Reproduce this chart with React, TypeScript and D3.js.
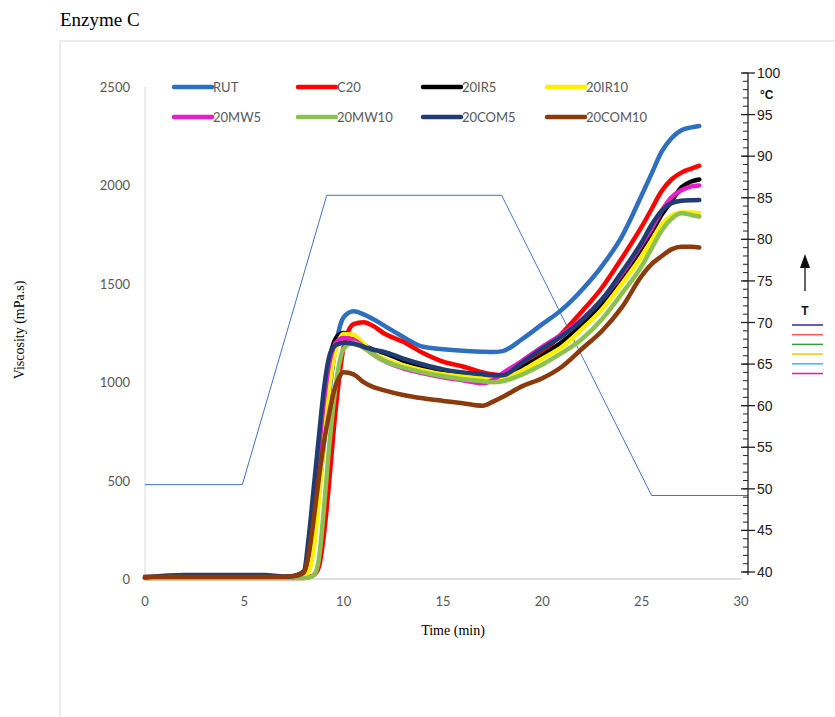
import * as d3 from "d3";
import { useRef, useEffect } from "react";

const seriesNames = ["RUT", "C20", "20IR5", "20IR10", "20MW5", "20MW10", "20COM5", "20COM10"];
const seriesColors = ["#2E6FBF", "#FF0000", "#000000", "#FFF000", "#E61EC8", "#8CC152", "#1F3C73", "#8B3A0C"];

// time (min)
const times = [0, 2, 4, 6, 7, 7.5, 8, 8.25, 8.5, 8.75, 9, 9.25, 9.5, 9.75, 10, 10.5, 11, 11.5, 12, 13, 14, 15, 16, 17, 17.5, 18, 19, 20, 21, 22, 23, 24, 25, 25.5, 26, 26.5, 27, 27.5, 27.9];

// viscosity (mPa.s)
const rut = [8, 8, 8, 8, 10, 12, 15, 50, 200, 430, 680, 920, 1120, 1260, 1330, 1360, 1345, 1320, 1290, 1230, 1180, 1168, 1160, 1155, 1153, 1158, 1220, 1295, 1370, 1470, 1590, 1740, 1950, 2060, 2170, 2240, 2280, 2295, 2302];
const c20 = [5, 5, 5, 5, 5, 5, 5, 10, 20, 60, 220, 470, 760, 1000, 1180, 1295, 1305, 1285, 1250, 1205, 1148, 1104, 1080, 1050, 1040, 1035, 1090, 1150, 1250, 1360, 1480, 1630, 1790, 1880, 1970, 2030, 2065, 2085, 2100];
const ir5 = [8, 8, 8, 8, 10, 12, 25, 120, 370, 640, 900, 1100, 1200, 1240, 1250, 1230, 1190, 1165, 1150, 1110, 1080, 1058, 1042, 1030, 1026, 1028, 1075, 1135, 1205, 1290, 1400, 1530, 1680, 1760, 1850, 1920, 1990, 2020, 2030];
const ir10 = [8, 8, 8, 8, 8, 10, 15, 40, 160, 400, 700, 950, 1120, 1210, 1245, 1240, 1195, 1150, 1120, 1085, 1060, 1040, 1030, 1020, 1015, 1020, 1060, 1120, 1180, 1270, 1370, 1500, 1640, 1720, 1800, 1845, 1862, 1862, 1860];
const mw5 = [8, 8, 8, 8, 10, 15, 35, 160, 410, 660, 900, 1080, 1180, 1215, 1225, 1215, 1180, 1140, 1110, 1070, 1045, 1025, 1010, 995, 1010, 1045, 1110, 1180, 1245, 1320, 1420, 1550, 1700, 1780, 1870, 1940, 1975, 1995, 2000];
const mw10 = [5, 5, 5, 5, 5, 5, 5, 8, 20, 100, 350, 650, 900, 1080, 1170, 1200, 1175, 1140, 1110, 1075, 1050, 1030, 1015, 1005, 1000, 1005, 1040, 1090, 1150, 1220, 1320, 1450, 1590, 1680, 1770, 1830, 1858, 1850, 1842];
const com5 = [8, 20, 20, 20, 12, 15, 40, 220, 470, 720, 960, 1120, 1180, 1195, 1200, 1195, 1180, 1165, 1155, 1120, 1090, 1065, 1050, 1040, 1035, 1035, 1100, 1170, 1235, 1315, 1420, 1560, 1710, 1800, 1870, 1910, 1922, 1925, 1926];
const com10 = [12, 12, 12, 12, 12, 15, 35, 130, 310, 510, 690, 830, 950, 1020, 1050, 1040, 1000, 975, 960, 935, 918, 905, 893, 880, 900, 925, 980, 1020, 1080, 1170, 1260, 1380, 1540, 1600, 1640, 1675, 1688, 1688, 1685];
const seriesValues = [rut, c20, ir5, ir10, mw5, mw10, com5, com10];

// temperature profile (°C)
const tempTimes = [0, 4.9, 9.15, 17.95, 25.5, 30.35];
const tempValues = [50.5, 50.5, 85.3, 85.3, 49.2, 49.2];

const xTicks = [0, 5, 10, 15, 20, 25, 30];
const yTicks = [0, 500, 1000, 1500, 2000, 2500];
const tTicks = [40, 45, 50, 55, 60, 65, 70, 75, 80, 85, 90, 95, 100];
const sideColors = ["#2B2BA6", "#FF5A5A", "#2E9E3A", "#FFC21F", "#35B6FF", "#E0208C"];

export default function App() {
  const svgRef = useRef(null);

  useEffect(() => {
    const svg = d3.select(svgRef.current);
    svg.selectAll("*").remove();

    const x = d3.scaleLinear().domain([0, 30]).range([145, 741]);
    const y = d3.scaleLinear().domain([0, 2500]).range([579, 87]);
    const yT = d3.scaleLinear().domain([40, 100]).range([572, 73]);
    const sans = "Lato, 'Open Sans', sans-serif";

    // outer box
    svg.append("path").attr("d", "M60,717 L60,41 L835,41").attr("fill", "none").attr("stroke", "#d9d9d9");

    svg.append("text").attr("x", 60).attr("y", 26).attr("font-family", "'Liberation Serif', serif")
      .attr("font-size", 19).attr("fill", "#000").text("Enzyme C");

    // axes lines
    svg.append("line").attr("x1", 145).attr("x2", 145).attr("y1", 87).attr("y2", 579).attr("stroke", "#d9d9d9");
    svg.append("line").attr("x1", 145).attr("x2", 741).attr("y1", 579).attr("y2", 579).attr("stroke", "#bfbfbf");

    svg.selectAll(".yt").data(yTicks).enter().append("text")
      .attr("x", 130).attr("y", d => y(d) + 5).attr("text-anchor", "end")
      .attr("font-family", sans).attr("font-size", 13).attr("fill", "#595959").text(d => d);
    svg.selectAll(".xt").data(xTicks).enter().append("text")
      .attr("x", d => x(d)).attr("y", 606).attr("text-anchor", "middle")
      .attr("font-family", sans).attr("font-size", 13).attr("fill", "#595959").text(d => d);

    svg.append("text").attr("x", 453).attr("y", 635).attr("text-anchor", "middle")
      .attr("font-family", "'Liberation Serif', serif").attr("font-size", 14).text("Time (min)");
    svg.append("text").attr("transform", "translate(24,330) rotate(-90)").attr("text-anchor", "middle")
      .attr("font-family", "'Liberation Serif', serif").attr("font-size", 14).text("Viscosity (mPa.s)");

    // temperature line
    const tLine = d3.line().x(d => x(d[0])).y(d => yT(d[1]));
    svg.append("path").datum(tempTimes.map((t, i) => [t, tempValues[i]]))
      .attr("d", tLine).attr("fill", "none").attr("stroke", "#4472C4").attr("stroke-width", 1);

    // viscosity curves
    const line = d3.line().x(d => x(d[0])).y(d => y(d[1])).curve(d3.curveMonotoneX);
    seriesValues.forEach((vals, i) => {
      svg.append("path").datum(times.map((t, j) => [t, vals[j]]))
        .attr("d", line).attr("fill", "none").attr("stroke", seriesColors[i])
        .attr("stroke-width", 4.5).attr("stroke-linejoin", "round").attr("stroke-linecap", "round");
    });

    // legend
    const legX = [174, 298, 423, 547];
    const legY = [87, 117];
    seriesNames.forEach((name, i) => {
      const lx = legX[i % 4];
      const ly = legY[Math.floor(i / 4)];
      svg.append("line").attr("x1", lx).attr("x2", lx + 38).attr("y1", ly).attr("y2", ly)
        .attr("stroke", seriesColors[i]).attr("stroke-width", 4.5).attr("stroke-linecap", "round");
      svg.append("text").attr("x", lx + 39).attr("y", ly + 5).attr("font-family", sans)
        .attr("font-size", 13).attr("fill", "#595959").text(name);
    });

    // right temperature axis
    const ax = 748;
    const arial = "'Liberation Sans', Arial, sans-serif";
    svg.append("line").attr("x1", ax).attr("x2", ax).attr("y1", yT(100)).attr("y2", yT(40) + 3)
      .attr("stroke", "#222").attr("stroke-width", 1.3);
    svg.selectAll(".tmin").data(d3.range(40, 101, 1)).enter().append("line")
      .attr("x1", ax - 5).attr("x2", ax).attr("y1", d => yT(d)).attr("y2", d => yT(d))
      .attr("stroke", "#222").attr("stroke-width", 1);
    svg.selectAll(".tmaj").data(tTicks).enter().append("line")
      .attr("x1", ax - 7).attr("x2", ax + 7).attr("y1", d => yT(d)).attr("y2", d => yT(d))
      .attr("stroke", "#222").attr("stroke-width", 1.3);
    svg.selectAll(".tlab").data(tTicks).enter().append("text")
      .attr("x", ax + 9).attr("y", d => yT(d) + 5).attr("font-family", arial)
      .attr("font-size", 14).attr("fill", "#222").text(d => d);
    svg.append("text").attr("x", 760).attr("y", 99).attr("font-family", arial)
      .attr("font-size", 12).attr("font-weight", "bold").attr("fill", "#111").text("°C");

    // T arrow and coloured marks
    svg.append("line").attr("x1", 805).attr("x2", 805).attr("y1", 291).attr("y2", 266)
      .attr("stroke", "#111").attr("stroke-width", 1.3);
    svg.append("path").attr("d", "M800,268 L805,254 L810,268 Z").attr("fill", "#111");
    svg.append("text").attr("x", 805).attr("y", 315).attr("text-anchor", "middle").attr("font-family", arial)
      .attr("font-size", 12).attr("font-weight", "bold").attr("fill", "#111").text("T");
    svg.selectAll(".side").data(sideColors).enter().append("line")
      .attr("x1", 792).attr("x2", 823).attr("y1", (d, i) => 325 + i * 9.7).attr("y2", (d, i) => 325 + i * 9.7)
      .attr("stroke", d => d).attr("stroke-width", 1.5);
  }, []);

  return (
    <svg ref={svgRef} width={835} height={717}
      style={{ position: "absolute", left: 0, top: 0, background: "#fff" }} />
  );
}
